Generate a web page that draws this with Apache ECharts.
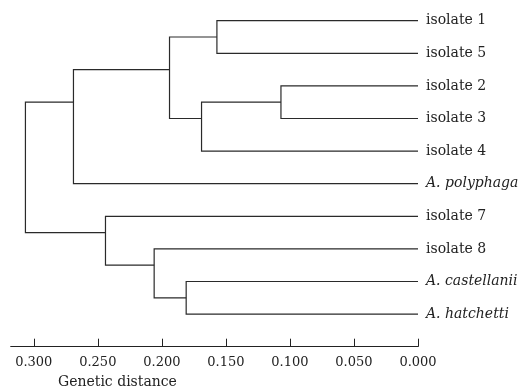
<!DOCTYPE html>
<html>
<head>
<meta charset="utf-8">
<script src="https://cdn.jsdelivr.net/npm/echarts@6/dist/echarts.min.js"></script>
<style>
  html, body { margin: 0; padding: 0; background: #fff; }
  #tree { width: 526px; height: 390px; }
</style>
</head>
<body>
<div id="tree"></div>
<script>
// leaves, top to bottom
var leafNames = ['isolate 1', 'isolate 5', 'isolate 2', 'isolate 3', 'isolate 4',
  'A. polyphaga', 'isolate 7', 'isolate 8', 'A. castellanii', 'A. hatchetti'];
var italicLeaf = [false, false, false, false, false, true, false, false, true, true];

// merges (index < 10 = leaf, otherwise cluster 10 + k)
var mergeLeft   = [0, 2, 11, 10, 13, 8, 7, 6, 14];
var mergeRight  = [1, 3, 4, 12, 5, 9, 15, 16, 17];
var mergeHeight = [0.157, 0.107, 0.169, 0.194, 0.269, 0.181, 0.206, 0.244, 0.3065];
// vertical position where each cluster joins its parent (in leaf rows)
var nodeY       = [0.5, 2.5, 3, 1.5, 2.5, 8.5, 7.5, 6.5, 4.5];

var tickVals = [0, 0.05, 0.1, 0.15, 0.2, 0.25, 0.3];
var leafRows = [0, 1, 2, 3, 4, 5, 6, 7, 8, 9];

function nodeHeight(n) { return n < 10 ? 0 : mergeHeight[n - 10]; }
function nodeRow(n) { return n < 10 ? n : nodeY[n - 10]; }

var segData = [];
for (var i = 0; i < mergeHeight.length; i++) {
  var a = mergeLeft[i], b = mergeRight[i];
  segData.push([nodeHeight(a), nodeRow(a), nodeHeight(b), nodeRow(b), mergeHeight[i]]);
}

var myChart = echarts.init(document.getElementById('tree'));
var font = 'DejaVu Serif';

var option = {
  animation: false,
  grid: { left: 10.7, right: 108, top: 20.7, bottom: 43.3 },
  xAxis: {
    type: 'value',
    position: 'bottom',
    inverse: true,
    min: 0,
    max: 0.318,
    axisLine: { show: true, onZero: false, lineStyle: { color: '#222', width: 1 } },
    // ticks point up into the plot
    axisTick: { show: true, inside: true, length: 8, customValues: tickVals, lineStyle: { color: '#222' } },
    axisLabel: {
      customValues: tickVals,
      margin: 9,
      color: '#222',
      fontFamily: font,
      fontSize: 13,
      formatter: function (v) { return v.toFixed(3); }
    },
    splitLine: { show: false }
  },
  yAxis: {
    type: 'value',
    inverse: true,
    min: 0,
    max: 10,
    position: 'right',
    axisLine: { show: false },
    axisTick: { show: false },
    splitLine: { show: false },
    axisLabel: {
      customValues: leafRows,
      margin: 8,
      color: '#222',
      fontFamily: font,
      fontSize: 14,
      formatter: function (v) {
        var k = Math.round(v);
        return italicLeaf[k] ? '{it|' + leafNames[k] + '}' : leafNames[k];
      },
      rich: {
        it: { fontStyle: 'italic', fontFamily: font, fontSize: 14, color: '#222' }
      }
    }
  },
  graphic: [{
    type: 'text',
    left: 58,
    top: 375,
    style: { text: 'Genetic distance', fill: '#222', font: '14px "DejaVu Serif"' }
  }],
  series: [{
    type: 'custom',
    silent: true,
    clip: false,
    encode: { x: [0, 2, 4], y: [1, 3] },
    renderItem: function (params, api) {
      var p1 = api.coord([api.value(0), api.value(1)]);
      var p2 = api.coord([api.value(4), api.value(1)]);
      var p3 = api.coord([api.value(4), api.value(3)]);
      var p4 = api.coord([api.value(2), api.value(3)]);
      return {
        type: 'polyline',
        shape: { points: [p1, p2, p3, p4] },
        style: { stroke: '#2a2a2a', lineWidth: 1.2, fill: null }
      };
    },
    data: segData
  }]
};

myChart.setOption(option);
</script>
</body>
</html>
